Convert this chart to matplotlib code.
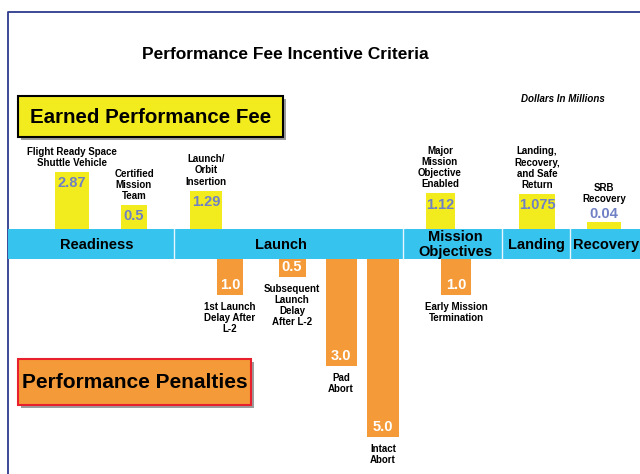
import numpy as np
import matplotlib
matplotlib.use('Agg')
import matplotlib.pyplot as plt
from matplotlib.patches import Rectangle

plt.rcParams['font.family'] = ['Liberation Sans', 'DejaVu Sans']

# data (dollars in millions)
earned_labels = ['Flight Ready Space\nShuttle Vehicle', 'Certified\nMission\nTeam',
                 'Launch/\nOrbit\nInsertion', 'Major\nMission\nObjective\nEnabled',
                 'Landing,\nRecovery,\nand Safe\nReturn', 'SRB\nRecovery']
earned_values = [2.87, 0.5, 1.29, 1.12, 1.075, 0.04]

penalty_labels = ['1st Launch\nDelay After\nL-2', 'Subsequent\nLaunch\nDelay\nAfter L-2',
                  'Pad\nAbort', 'Intact\nAbort', 'Early Mission\nTermination']
penalty_values = [1.0, 0.5, 3.0, 5.0, 1.0]

phases = ['Readiness', 'Launch', 'Mission\nObjectives', 'Landing', 'Recovery']

# layout (pixels of a 640x474 canvas)
W, H = 640, 474
earned_x = [72, 134, 206, 440, 537, 604]
earned_w = [34, 26, 32, 29, 36, 34]
penalty_x = [230, 292, 341, 383, 456]
penalty_w = [26, 27, 31, 32, 30]
phase_edges = [8, 174, 403, 502, 570, 640]
phase_text_x = [97, 281, 455, 536, 606]
band_top, band_bot = 229, 259

yellow = '#F2EC1E'
orange = '#F59A38'
band_col = '#36C3EE'
value_blue = '#7080C4'

fig = plt.figure(figsize=(6.4, 4.74), dpi=100)
bg = fig.add_axes([0, 0, 1, 1])
bg.set_xlim(0, W)
bg.set_ylim(H, 0)
bg.axis('off')

# frame
bg.plot([8, 8, W], [H, 12, 12], color='#2E3A8C', lw=1.3, solid_capstyle='butt')

bg.text(285, 54, 'Performance Fee Incentive Criteria', ha='center', va='center',
        fontsize=12.5, fontweight='bold')
bg.text(563, 99, 'Dollars In Millions', ha='center', va='center',
        fontsize=7, fontweight='bold', style='italic')

# header boxes with shadow
def header_box(x0, y0, x1, y1, face, edge, text, size):
    bg.add_patch(Rectangle((x0 + 3, y0 + 3), x1 - x0, y1 - y0, facecolor='#9C9C9C',
                           edgecolor='none', zorder=1))
    bg.add_patch(Rectangle((x0, y0), x1 - x0, y1 - y0, facecolor=face,
                           edgecolor=edge, lw=1.5, zorder=2))
    bg.text((x0 + x1) / 2, (y0 + y1) / 2 + 1, text, ha='center', va='center',
            fontsize=size, fontweight='bold', zorder=3)

header_box(18, 96, 283, 137, yellow, 'black', 'Earned Performance Fee', 14.8)
header_box(18, 359, 251, 405, orange, '#E8202E', 'Performance Penalties', 15)

# phase band
for i, name in enumerate(phases):
    x0, x1 = phase_edges[i], phase_edges[i + 1]
    bg.add_patch(Rectangle((x0, band_top), x1 - x0, band_bot - band_top,
                           facecolor=band_col, edgecolor='none', zorder=2))
    if i > 0:
        bg.plot([x0, x0], [band_top, band_bot], color='#E6F6FC', lw=1, zorder=3)
    bg.text(phase_text_x[i], (band_top + band_bot) / 2 + 0.5, name, ha='center',
            va='center', fontsize=10.5, fontweight='bold', linespacing=1.1, zorder=4)

# earned fee bars (square-root scale above the band)
top_h = 57
ax1 = fig.add_axes([0, (H - band_top) / H, 1, top_h / H])
ax1.set_yscale('function', functions=(lambda v: np.sqrt(np.clip(v, 0, None)), np.square))
ax1.set_xlim(0, W)
ax1.set_ylim(0, max(earned_values))
ax1.axis('off')
ax1.patch.set_alpha(0)
ax1.bar(earned_x, earned_values, width=earned_w, color=yellow, zorder=2)
for x, v, lab in zip(earned_x, earned_values, earned_labels):
    bar_px = top_h * np.sqrt(v / max(earned_values))
    if bar_px > 16:
        ax1.annotate(str(v), (x, v), xytext=(0, -3), textcoords='offset points',
                     ha='center', va='top', fontsize=10.5, fontweight='bold',
                     color=value_blue, annotation_clip=False)
        off = 3
    else:
        ax1.annotate(str(v), (x, v), xytext=(0, 1), textcoords='offset points',
                     ha='center', va='bottom', fontsize=10.5, fontweight='bold',
                     color=value_blue, annotation_clip=False)
        off = 13
    ax1.annotate(lab, (x, v), xytext=(0, off), textcoords='offset points',
                 ha='center', va='bottom', fontsize=7, fontweight='bold',
                 linespacing=1.15, annotation_clip=False)

# penalty bars (linear scale below the band)
bot_h = 178
ax2 = fig.add_axes([0, (H - band_bot - bot_h) / H, 1, bot_h / H])
ax2.set_xlim(0, W)
ax2.set_ylim(max(penalty_values), 0)
ax2.axis('off')
ax2.patch.set_alpha(0)
ax2.bar(penalty_x, penalty_values, width=penalty_w, color=orange, zorder=2)
for x, v, lab in zip(penalty_x, penalty_values, penalty_labels):
    ax2.annotate(f'{v:.1f}', (x, v), xytext=(0, 2), textcoords='offset points',
                 ha='center', va='bottom', fontsize=10.5, fontweight='bold',
                 color='white', annotation_clip=False)
    ax2.annotate(lab, (x, v), xytext=(0, -5), textcoords='offset points',
                 ha='center', va='top', fontsize=7, fontweight='bold',
                 linespacing=1.15, annotation_clip=False)

fig.savefig('out.png', dpi=100, facecolor='white')
